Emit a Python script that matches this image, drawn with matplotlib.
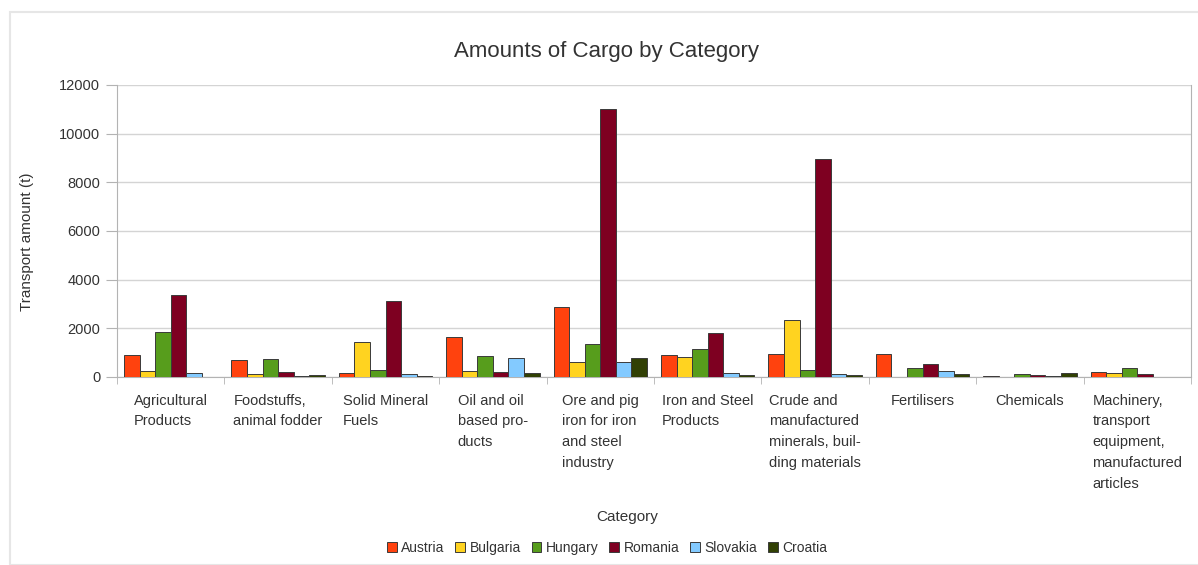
import numpy as np
import matplotlib.pyplot as plt
from matplotlib.patches import Rectangle

# categories and per-country cargo amounts (t)
categories = [
    "Agricultural\nProducts",
    "Foodstuffs,\nanimal fodder",
    "Solid Mineral\nFuels",
    "Oil and oil\nbased pro-\nducts",
    "Ore and pig\niron for iron\nand steel\nindustry",
    "Iron and Steel\nProducts",
    "Crude and\nmanufactured\nminerals, buil-\nding materials",
    "Fertilisers",
    "Chemicals",
    "Machinery,\ntransport\nequipment,\nmanufactured\narticles",
]
countries = ["Austria", "Bulgaria", "Hungary", "Romania", "Slovakia", "Croatia"]

austria = [900, 700, 150, 1640, 2870, 910, 960, 960, 50, 220]
bulgaria = [260, 120, 1450, 250, 600, 810, 2330, 0, 10, 170]
hungary = [1860, 730, 300, 860, 1340, 1170, 300, 370, 110, 370]
romania = [3370, 220, 3140, 220, 11000, 1800, 8950, 520, 70, 120]
slovakia = [150, 50, 130, 790, 600, 180, 130, 250, 30, 10]
croatia = [20, 90, 30, 180, 800, 100, 100, 120, 160, 10]

series = [austria, bulgaria, hungary, romania, slovakia, croatia]
colors = ["#ff420e", "#ffd320", "#579d1c", "#7e0021", "#83caff", "#314004"]

plt.rcParams['font.family'] = ['Liberation Sans', 'DejaVu Sans']

W, H = 1198, 565
fig = plt.figure(figsize=(W / 100, H / 100), dpi=100)

# faint outer frame of the original screenshot
fig.patches.append(Rectangle((10 / W, 0), 1.2, 1 - 12 / H, transform=fig.transFigure,
                             fill=False, edgecolor="#e6e6e6", linewidth=1.5))

ax = fig.add_axes([117 / W, 1 - 377 / H, 1074 / W, (377 - 85) / H])

x = np.arange(len(categories))
n = len(series)
bw = 0.87 / n
for i, (vals, c, name) in enumerate(zip(series, colors, countries)):
    ax.bar(x - 0.435 + bw * (i + 0.5), vals, width=bw, color=c,
           edgecolor="#3a3a3a", linewidth=0.7, label=name, zorder=3)

ax.set_xlim(-0.5, len(categories) - 0.5)
ax.set_ylim(0, 12000)
ax.set_yticks(np.arange(0, 12001, 2000))
ax.yaxis.grid(True, color="#d4d4d4", linewidth=1, zorder=0)

ax.set_xticks(x)
ax.set_xticklabels(categories, fontsize=10.5, color="#333333",
                   ha="center", multialignment="left", linespacing=1.62, va="top")
ax.set_xticks(np.arange(-0.5, len(categories), 1), minor=True)
ax.tick_params(axis="x", which="major", length=0, pad=12)
ax.tick_params(axis="x", which="minor", length=5, color="#b3b3b3")
ax.tick_params(axis="y", length=8, color="#b3b3b3", labelsize=10.5,
               labelcolor="#333333", pad=4)

for side in ["left", "right", "bottom"]:
    ax.spines[side].set_color("#b3b3b3")
ax.spines["top"].set_visible(False)

fig.text(607 / W, 1 - 51 / H, "Amounts of Cargo by Category", ha="center",
         va="center", fontsize=16, color="#333333")
fig.text(27 / W, 1 - 242 / H, "Transport amount (t)", rotation=90, ha="center",
         va="center", fontsize=11, color="#333333")
fig.text(627 / W, 1 - 517 / H, "Category", ha="center", va="center",
         fontsize=11, color="#333333")

fig.legend(loc="center", bbox_to_anchor=(607 / W, 1 - 548 / H), ncol=6,
           frameon=False, fontsize=10, handlelength=0.7, handleheight=0.7,
           handletextpad=0.3, columnspacing=0.8, labelcolor="#333333")

fig.savefig("out.png", dpi=100, facecolor="white")
